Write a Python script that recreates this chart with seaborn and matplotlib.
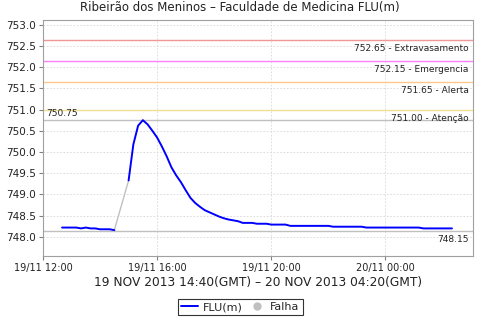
import matplotlib
matplotlib.use("Agg")
import matplotlib.pyplot as plt
from matplotlib.lines import Line2D
import seaborn as sns
import pandas as pd

# hours after 19/11 12:00
seg1_t = [0.667, 0.833, 1.0, 1.167, 1.333, 1.5, 1.667, 1.833, 2.0, 2.167, 2.333, 2.5]
seg1_v = [748.22, 748.22, 748.22, 748.22, 748.20, 748.22, 748.20, 748.20, 748.18, 748.18, 748.18, 748.16]

falha_t = [2.5, 3.0]
falha_v = [748.16, 749.33]

seg2_t = [3.0, 3.167, 3.333, 3.5, 3.667, 3.833, 4.0, 4.167, 4.333, 4.5, 4.667, 4.833,
          5.0, 5.167, 5.333, 5.5, 5.667, 5.833, 6.0, 6.167, 6.333, 6.5, 6.667, 6.833,
          7.0, 7.333, 7.5, 7.833, 8.0, 8.5, 8.667, 10.0, 10.167, 11.167, 11.333,
          13.167, 13.333, 14.333]
seg2_v = [749.33, 750.18, 750.62, 750.75, 750.65, 750.50, 750.34, 750.13, 749.90, 749.64, 749.45, 749.29,
          749.10, 748.92, 748.80, 748.71, 748.63, 748.58, 748.53, 748.48, 748.44, 748.41, 748.39, 748.37,
          748.33, 748.33, 748.31, 748.31, 748.29, 748.29, 748.26, 748.26, 748.24, 748.24, 748.22,
          748.22, 748.20, 748.20]

thresholds = [752.65, 752.15, 751.65, 751.00]
threshold_labels = ["752.65 - Extravasamento", "752.15 - Emergencia", "751.65 - Alerta", "751.00 - Atenção"]
threshold_colors = ["#f09898", "#ff80ff", "#ffc888", "#f0e090"]
ref_max = 750.75
ref_min = 748.15

xtick_pos = [0, 4, 8, 12]
xtick_labels = ["19/11 12:00", "19/11 16:00", "19/11 20:00", "20/11 00:00"]
ytick_pos = [748.0, 748.5, 749.0, 749.5, 750.0, 750.5, 751.0, 751.5, 752.0, 752.5, 753.0]

title = "Ribeirão dos Meninos – Faculdade de Medicina FLU(m)"
subtitle = "19 NOV 2013 14:40(GMT) – 20 NOV 2013 04:20(GMT)"

sns.set_theme(style="white")
plt.rcParams['font.family'] = ['DejaVu Sans']

fig = plt.figure(figsize=(4.8, 3.2), dpi=100)
ax = fig.add_axes([43/480, 64/320, 430/480, 236/320])

df1 = pd.DataFrame({"t": seg1_t, "v": seg1_v})
df2 = pd.DataFrame({"t": seg2_t, "v": seg2_v})
dff = pd.DataFrame({"t": falha_t, "v": falha_v})

sns.lineplot(data=dff, x="t", y="v", ax=ax, color="#c0c0c0", linewidth=1.0, zorder=3)
sns.lineplot(data=df1, x="t", y="v", ax=ax, color="#0000ff", linewidth=1.4, zorder=4)
sns.lineplot(data=df2, x="t", y="v", ax=ax, color="#0000ff", linewidth=1.4, zorder=4)

ax.set_xlim(0, 15.07)
ax.set_ylim(747.55, 753.11)

for y, lab, c in zip(thresholds, threshold_labels, threshold_colors):
    ax.axhline(y, color=c, linewidth=1.0, zorder=2)
    ax.annotate(lab, xy=(1, y), xycoords=("axes fraction", "data"), xytext=(-3, -3),
                textcoords="offset points", ha="right", va="top", fontsize=6.5, color="#222222")

for y in (ref_max, ref_min):
    ax.axhline(y, color="#c0c0c0", linewidth=1.0, zorder=2)
ax.annotate(f"{ref_max:.2f}", xy=(0, ref_max), xycoords=("axes fraction", "data"), xytext=(2, 1.5),
            textcoords="offset points", ha="left", va="bottom", fontsize=6.5, color="#222222")
ax.annotate(f"{ref_min:.2f}", xy=(1, ref_min), xycoords=("axes fraction", "data"), xytext=(-3, -3),
            textcoords="offset points", ha="right", va="top", fontsize=6.5, color="#222222")

ax.set_xticks(xtick_pos)
ax.set_xticklabels(xtick_labels)
ax.set_yticks(ytick_pos)
ax.set_yticklabels([f"{v:.1f}" for v in ytick_pos])
ax.tick_params(axis="x", labelsize=7, length=3, width=0.8, color="#808080",
               direction="out", bottom=True, pad=2, labelcolor="#222222")
ax.tick_params(axis="y", labelsize=7.5, length=3, width=0.8, color="#808080",
               direction="out", left=True, pad=2, labelcolor="#222222")
ax.grid(True, color="#d8d8d8", linestyle=(0, (2, 2)), linewidth=0.6)
for s in ax.spines.values():
    s.set_color("#a0a0a0")
    s.set_linewidth(0.8)

ax.set_ylabel("")
ax.set_xlabel(subtitle, fontsize=8.8, labelpad=2, color="#222222")
fig.text(0.5, 1 - 1.5/320, title, ha="center", va="top", fontsize=8.5, color="#222222")

handles = [Line2D([0], [0], color="#0000ff", linewidth=1.4),
           Line2D([0], [0], color="#c0c0c0", marker="o", linestyle="none", markersize=5)]
leg = fig.legend(handles, ["FLU(m)", "Falha"], loc="center", bbox_to_anchor=(240.5/480, 1 - 307/320),
                 ncol=2, fontsize=8, frameon=True, fancybox=False, handlelength=1.5,
                 handletextpad=0.4, columnspacing=0.6, borderpad=0.3, borderaxespad=0)
leg.get_frame().set_edgecolor("black")
leg.get_frame().set_linewidth(0.8)

fig.savefig("out.png", dpi=100)
